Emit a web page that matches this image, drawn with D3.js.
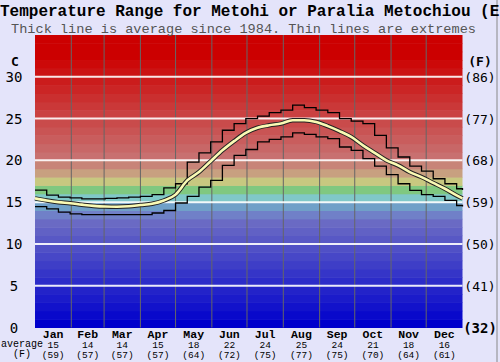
<!DOCTYPE html>
<html>
<head>
<meta charset="utf-8">
<script src="https://d3js.org/d3.v7.min.js"></script>
<style>
  body { margin: 0; background: #e4e4fa; }
  svg { display: block; }
</style>
</head>
<body>
<svg></svg>
<script>
// data
const months = ['Jan', 'Feb', 'Mar', 'Apr', 'May', 'Jun', 'Jul', 'Aug', 'Sep', 'Oct', 'Nov', 'Dec'];
const monthAvgC = [15, 14, 14, 15, 18, 22, 24, 25, 24, 21, 18, 16];
const monthAvgF = [59, 57, 57, 57, 64, 72, 75, 77, 75, 70, 64, 61];
const monthStarts = [0, 31, 59, 90, 120, 151, 181, 212, 243, 273, 304, 334, 365];

const days = [0, 10, 20, 30, 40, 50, 60, 70, 80, 90, 100, 110, 120, 130, 140, 150, 160, 170, 180,
  190, 200, 210, 220, 230, 240, 250, 260, 270, 280, 290, 300, 310, 320, 330, 340, 350, 360, 365];
const avgTemp = [15.45, 15.2, 15.0, 14.87, 14.7, 14.55, 14.47, 14.45, 14.5, 14.65, 14.8, 15.2, 15.9,
  17.6, 18.6, 19.9, 21.2, 22.3, 23.3, 23.9, 24.2, 24.4, 24.8, 24.8, 24.6, 24.1, 23.5, 22.8, 21.8,
  20.9, 20.0, 19.4, 18.6, 18.0, 17.3, 16.6, 15.8, 15.45];
const maxTemp = [16.45, 15.85, 15.6, 15.5, 15.4, 15.4, 15.45, 15.5, 15.6, 15.7, 15.9, 16.7, 17.2,
  19.8, 20.9, 22.2, 23.6, 24.4, 25.0, 25.3, 25.7, 26.0, 26.6, 26.3, 26.0, 25.7, 25.0, 24.7, 24.4,
  23.0, 21.5, 20.4, 19.3, 18.7, 17.8, 17.2, 16.6, 16.45];
const minTemp = [14.47, 14.2, 13.8, 13.6, 13.5, 13.5, 13.5, 13.5, 13.5, 13.5, 13.7, 14.0, 14.9,
  15.7, 16.8, 17.6, 19.4, 20.6, 21.3, 22.2, 22.5, 22.8, 23.3, 23.1, 22.8, 22.6, 21.6, 21.2, 20.2,
  19.3, 18.3, 17.2, 16.4, 15.9, 15.7, 15.2, 14.6, 14.47];
const cTicks = [0, 5, 10, 15, 20, 25, 30];

const W = 500, H = 362;
const svg = d3.select('svg').attr('width', W).attr('height', H);

const x = d3.scaleLinear().domain([0, 365]).range([35, 462.5]);
const y = d3.scaleLinear().domain([0, 35]).range([327.5, 35]);

// colour bands, one per degree
function bandColor(t) {
  const special = {13: '#7080c8', 14: '#70a0c8', 15: '#80c8c8', 16: '#80c880', 17: '#c8c880', 18: '#c8a080', 19: '#c88478'};
  if (special[t]) return special[t];
  if (t < 13) return d3.interpolateRgb('#0000cc', '#6a6ac4')(t / 12);
  if (t >= 32) return '#cc0000';
  return d3.interpolateRgb('#c87070', '#cc0000')((t - 20) / 12);
}
svg.append('g').selectAll('rect')
  .data(d3.range(0, 35))
  .join('rect')
  .attr('x', x(0))
  .attr('width', x(365) - x(0))
  .attr('y', d => y(d + 1))
  .attr('height', d => y(d) - y(d + 1) + 0.5)
  .attr('fill', d => bandColor(d));

// month dividers
svg.append('g').selectAll('line')
  .data(monthStarts.slice(1, 12))
  .join('line')
  .attr('x1', d => x(d)).attr('x2', d => x(d))
  .attr('y1', y(35)).attr('y2', y(0))
  .attr('stroke', '#666').attr('stroke-width', 1);

// white grid lines
svg.append('g').selectAll('line')
  .data(cTicks.slice(1))
  .join('line')
  .attr('x1', x(0)).attr('x2', x(365))
  .attr('y1', d => y(d)).attr('y2', d => y(d))
  .attr('stroke', '#fff').attr('stroke-opacity', 0.9).attr('stroke-width', 2);

const pts = arr => days.map((d, i) => [d, arr[i]]);
const stepLine = d3.line().x(d => x(d[0])).y(d => y(d[1])).curve(d3.curveStepAfter);
const smoothLine = d3.line().x(d => x(d[0])).y(d => y(d[1])).curve(d3.curveMonotoneX);

svg.append('path').attr('d', stepLine(pts(maxTemp)))
  .attr('fill', 'none').attr('stroke', '#000').attr('stroke-width', 1.3);
svg.append('path').attr('d', stepLine(pts(minTemp)))
  .attr('fill', 'none').attr('stroke', '#000').attr('stroke-width', 1.3);
svg.append('path').attr('d', smoothLine(pts(avgTemp)))
  .attr('fill', 'none').attr('stroke', '#222').attr('stroke-width', 4.5);
svg.append('path').attr('d', smoothLine(pts(avgTemp)))
  .attr('fill', 'none').attr('stroke', '#fafab4').attr('stroke-width', 2.6);

// right frame line
svg.append('line').attr('x1', 497).attr('x2', 497).attr('y1', 0).attr('y2', H)
  .attr('stroke', '#888').attr('stroke-width', 1);

// titles
svg.append('text').attr('x', 0).attr('y', 16)
  .attr('font-family', 'Liberation Mono').attr('font-weight', 'bold').attr('font-size', 16)
  .text('Temperature Range for Metohi or Paralia Metochiou (E');
svg.append('text').attr('x', 11).attr('y', 32.5)
  .attr('font-family', 'Liberation Mono').attr('font-size', 13.6).attr('fill', '#555')
  .text('Thick line is average since 1984. Thin lines are extremes');

// axis labels
const mono = 'DejaVu Sans Mono';
svg.append('text').attr('x', 15).attr('y', 66).attr('text-anchor', 'middle')
  .attr('font-family', mono).attr('font-weight', 'bold').attr('font-size', 13).text('C');
svg.append('text').attr('x', 480).attr('y', 66).attr('text-anchor', 'middle')
  .attr('font-family', mono).attr('font-weight', 'bold').attr('font-size', 13).text('(F)');

svg.append('g').selectAll('text')
  .data(cTicks)
  .join('text')
  .attr('x', 14).attr('y', d => y(d) + 5)
  .attr('text-anchor', 'middle')
  .attr('font-family', mono).attr('font-size', 14)
  .text(d => d);

svg.append('g').selectAll('text')
  .data(cTicks)
  .join('text')
  .attr('x', 480).attr('y', d => y(d) + 5)
  .attr('text-anchor', 'middle')
  .attr('font-family', mono).attr('font-size', d => d === 0 ? 14 : 13)
  .attr('font-weight', d => d === 0 ? 'bold' : 'normal')
  .text(d => '(' + Math.round(d * 9 / 5 + 32) + ')');

// month labels along the bottom
const mid = i => x((monthStarts[i] + monthStarts[i + 1]) / 2);
const bottom = svg.append('g').selectAll('g')
  .data(months)
  .join('g');
bottom.append('text').attr('x', (d, i) => mid(i)).attr('y', 337.5)
  .attr('text-anchor', 'middle').attr('font-family', 'Liberation Mono')
  .attr('font-weight', 'bold').attr('font-size', 11.5).text(d => d);
bottom.append('text').attr('x', (d, i) => mid(i)).attr('y', 347.5)
  .attr('text-anchor', 'middle').attr('font-family', 'Liberation Mono')
  .attr('font-size', 9.5).text((d, i) => monthAvgC[i]);
bottom.append('text').attr('x', (d, i) => mid(i)).attr('y', 357.5)
  .attr('text-anchor', 'middle').attr('font-family', 'Liberation Mono')
  .attr('font-size', 9.5).text((d, i) => '(' + monthAvgF[i] + ')');

svg.append('text').attr('x', 22).attr('y', 347).attr('text-anchor', 'middle')
  .attr('font-family', 'Liberation Mono').attr('font-size', 10).text('average');
svg.append('text').attr('x', 22).attr('y', 357).attr('text-anchor', 'middle')
  .attr('font-family', 'Liberation Mono').attr('font-size', 10).text('(F)');
</script>
</body>
</html>
